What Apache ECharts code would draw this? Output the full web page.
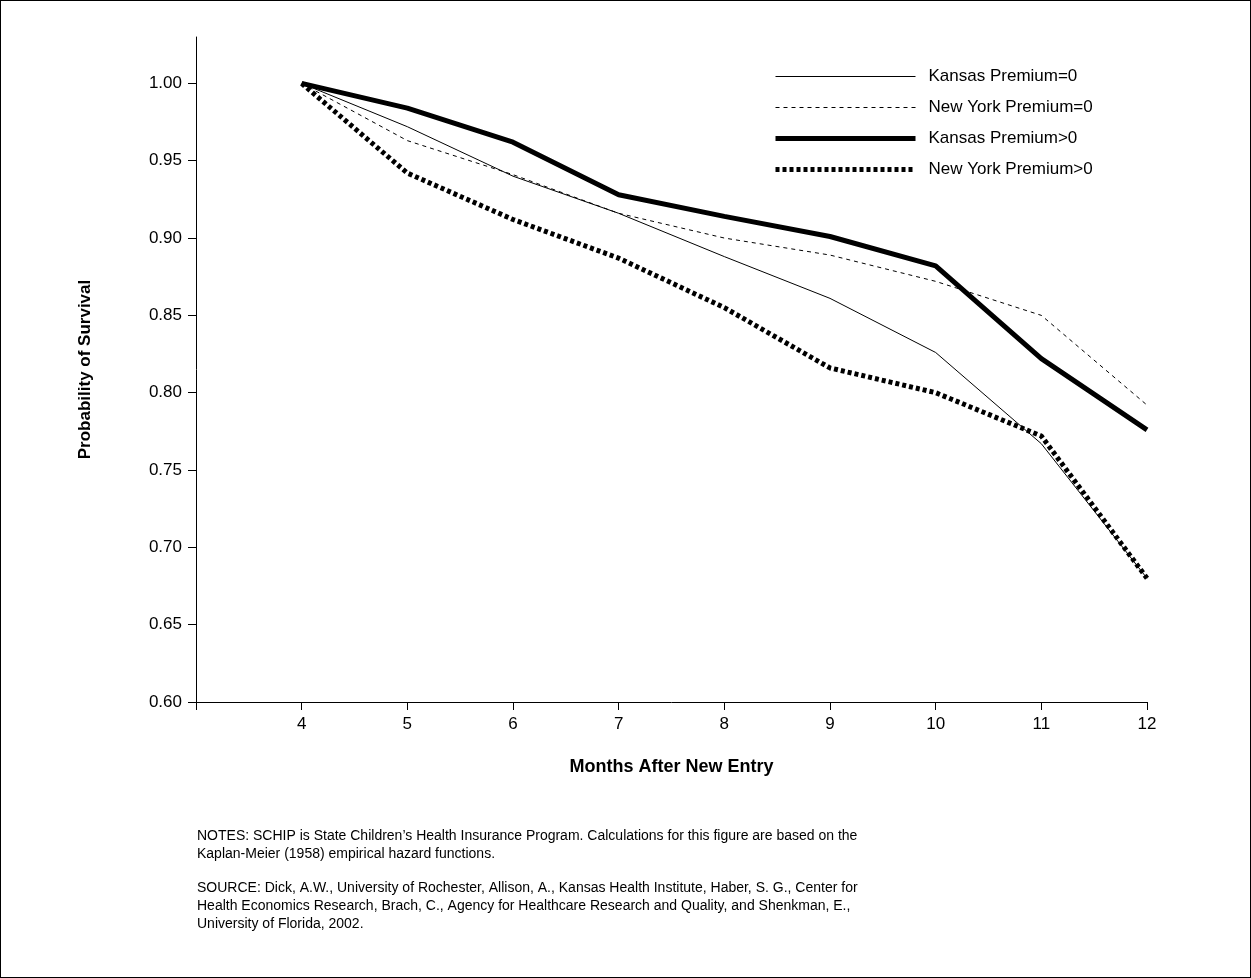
<!DOCTYPE html><html><head><meta charset="utf-8">
<script src="https://cdn.jsdelivr.net/npm/echarts@6/dist/echarts.min.js"></script>
<style>html,body{margin:0;background:#fff}#c{width:1251px;height:978px;box-sizing:border-box;border:1px solid #000}</style></head><body><div id="c"></div>
<script>
const months=[4,5,6,7,8,9,10,11,12];
const kansas0=[1.00,0.972,0.940,0.916,0.888,0.861,0.826,0.767,0.680];
const ny0=[1.00,0.963,0.941,0.916,0.900,0.889,0.872,0.850,0.792];
const kansasP=[1.00,0.984,0.962,0.928,0.914,0.901,0.882,0.822,0.776];
const nyP=[1.00,0.942,0.912,0.887,0.855,0.816,0.800,0.772,0.680];
const names=['Kansas Premium=0','New York Premium=0','Kansas Premium>0','New York Premium>0'];
const widths=[1,1,5,5];
const types=['solid',[4,4],'solid',[4,3]];
const F='Helvetica, Arial, "Liberation Sans", sans-serif';
const mk=(i,d)=>({name:names[i],type:'line',data:months.map((m,j)=>[m,d[j]]),symbol:'none',lineStyle:{color:'#000',width:widths[i],type:types[i]},itemStyle:{color:'#000'}});
const ch=echarts.init(document.getElementById('c'));
ch.setOption({animation:false,textStyle:{fontFamily:F},
grid:{left:195,right:103,top:36,bottom:275},
legend:{orient:'vertical',left:767,top:62,itemWidth:140,itemHeight:14,itemGap:14,textStyle:{fontSize:17,color:'#000',fontFamily:F,padding:[0,0,0,8]},
 data:names.map((n,i)=>({name:n,itemStyle:{opacity:0},lineStyle:{width:widths[i],type:types[i],color:'#000'}}))},
xAxis:{type:'value',min:3,max:12,interval:1,name:'Months After New Entry',nameLocation:'middle',nameGap:56,nameTextStyle:{fontSize:18,fontWeight:'bold',color:'#000'},
 axisLine:{lineStyle:{color:'#000'}},axisTick:{length:8,lineStyle:{color:'#000'}},splitLine:{show:false},
 axisLabel:{fontSize:17,color:'#000',margin:14,formatter:v=>v<4?'':v}},
yAxis:{type:'value',min:0.6,max:1.03,interval:0.05,name:'Probability of Survival',nameLocation:'middle',nameGap:102,nameTextStyle:{fontSize:17,fontWeight:'bold',color:'#000'},
 axisLine:{show:true,lineStyle:{color:'#000'}},axisTick:{show:true,length:8,lineStyle:{color:'#000'}},splitLine:{show:false},
 axisLabel:{fontSize:17,color:'#000',margin:14,showMaxLabel:false,formatter:v=>v.toFixed(2)}},
series:[mk(0,kansas0),mk(1,ny0),mk(2,kansasP),mk(3,nyP)],
graphic:[{type:'text',left:196,top:826,style:{text:'NOTES: SCHIP is State Children\u2019s Health Insurance Program. Calculations for this figure are based on the\nKaplan-Meier (1958) empirical hazard functions.',font:'14px '+F,lineHeight:18,fill:'#000'}},
{type:'text',left:196,top:878,style:{text:'SOURCE: Dick, A.W., University of Rochester, Allison, A., Kansas Health Institute, Haber, S. G., Center for\nHealth Economics Research, Brach, C., Agency for Healthcare Research and Quality, and Shenkman, E.,\nUniversity of Florida, 2002.',font:'14px '+F,lineHeight:18,fill:'#000'}}]
});
</script></body></html>
